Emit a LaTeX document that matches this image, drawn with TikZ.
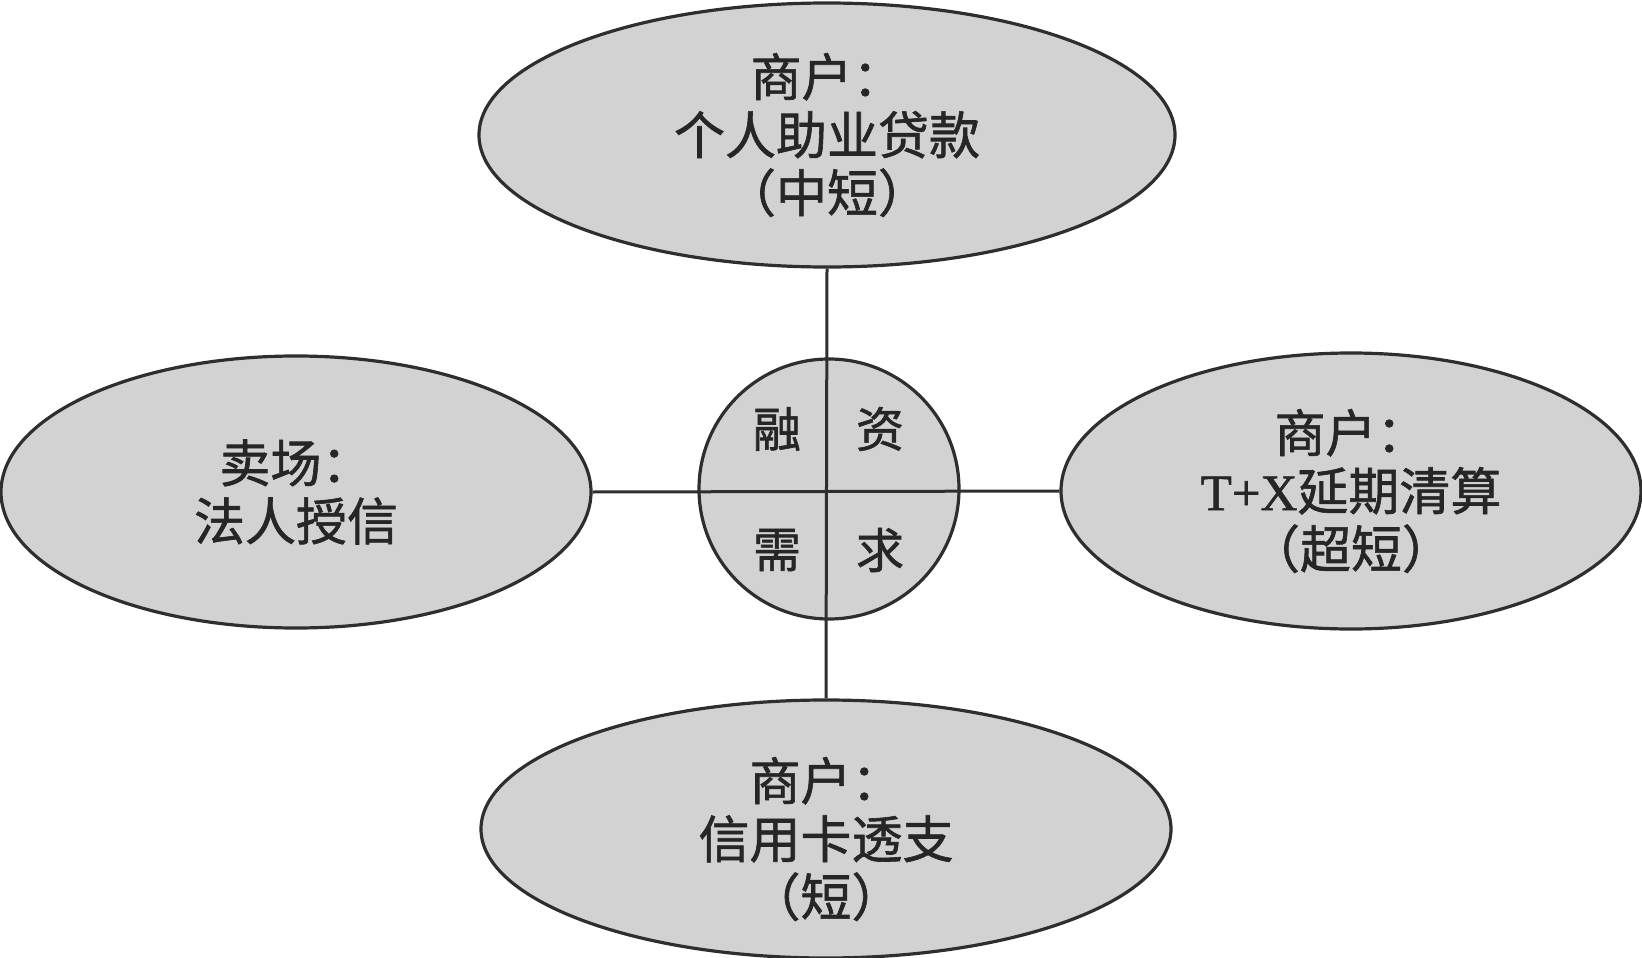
\documentclass[tikz,border=0pt]{standalone}
\usepackage{fontspec}
\newfontfamily\cjk[FakeBold=1.2]{Noto Sans CJK SC}
\newfontfamily\latinserif[FakeBold=1.2]{Liberation Serif}
\usetikzlibrary{shapes.geometric}
\definecolor{fillgray}{HTML}{D2D2D2}
\definecolor{linegray}{HTML}{2E2E2E}
\definecolor{textgray}{HTML}{262626}
\tikzset{
  oval/.style={ellipse, draw=linegray, line width=3.2pt, fill=fillgray, inner sep=0pt,
    text=textgray, align=center, font=\cjk\fontsize{51}{58}\selectfont},
  hub/.style={circle, draw=linegray, line width=3.2pt, fill=fillgray, inner sep=0pt},
  hubtext/.style={text=textgray, font=\cjk\fontsize{48}{50}\selectfont, inner sep=0pt},
  link/.style={draw=linegray, line width=3pt}
}
\begin{document}
\begin{tikzpicture}[x=1pt, y=-1pt]
\useasboundingbox (0,0) rectangle (1642,958);
\node[oval, minimum width=696pt, minimum height=264pt] (top) at (827,135) {商户：\\个人助业贷款\\（中短）};
\node[oval, minimum width=590pt, minimum height=272pt] (left) at (296,492) {卖场：\\法人授信};
\node[oval, minimum width=580pt, minimum height=276pt] (right) at (1351,491) {商户：\\{\latinserif T+X}延期清算\\（超短）};
\node[oval, minimum width=690pt, minimum height=258pt] (bottom) at (826,829) {};
\node[text=textgray, align=center, font=\cjk\fontsize{51}{58}\selectfont] (bottomtext) at (826,839) {商户：\\信用卡透支\\（短）};
\node[hub, minimum size=260pt] (hub) at (829,489) {};
\draw[link] (top.south) -- (bottom.north);
\draw[link] (left.east) -- (right.west);
\node[hubtext] (rong) at (777,429) {融};
\node[hubtext] (zi) at (880,429) {资};
\node[hubtext] (xu) at (777,550) {需};
\node[hubtext] (qiu) at (880,550) {求};
\end{tikzpicture}
\end{document}
